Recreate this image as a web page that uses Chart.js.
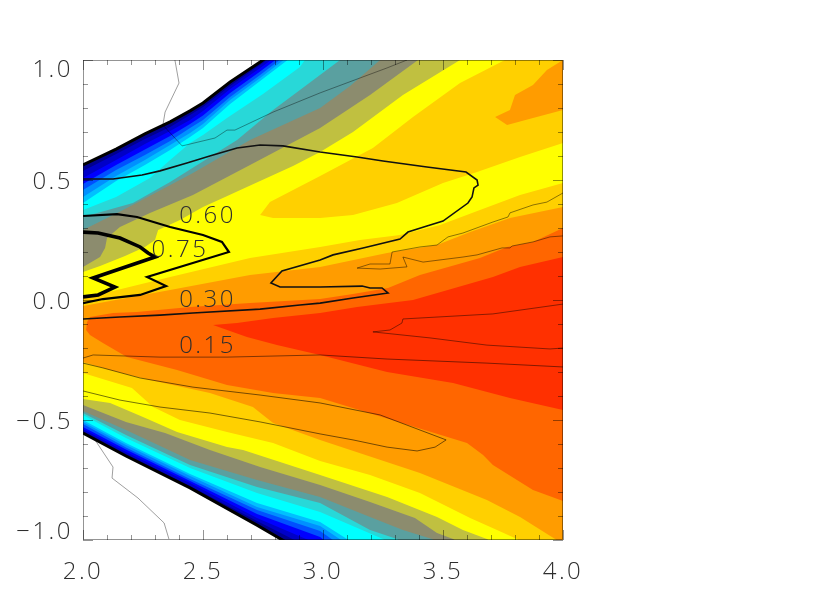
<!DOCTYPE html>
<html>
<head>
<meta charset="utf-8">
<title>Contour chart</title>
<script src="https://cdn.jsdelivr.net/npm/chart.js@4"></script>
<style>
  html, body { margin: 0; padding: 0; background: #fff; }
</style>
</head>
<body>
<canvas id="contour" width="830" height="600"></canvas>
<script>
var xMajorTicks = [2.0, 2.5, 3.0, 3.5, 4.0];
var yMajorTicks = [-1.0, -0.5, 0.0, 0.5, 1.0];
var xMinorTicks = [2.1, 2.2, 2.3, 2.4, 2.6, 2.7, 2.8, 2.9, 3.1, 3.2, 3.3, 3.4, 3.6, 3.7, 3.8, 3.9];
var yMinorTicks = [-0.9, -0.8, -0.7, -0.6, -0.4, -0.3, -0.2, -0.1, 0.1, 0.2, 0.3, 0.4, 0.6, 0.7, 0.8, 0.9];

// blue bands share their columns, upper and lower side of the fan
var blueUpperX = [2.000, 2.138, 2.258, 2.363, 2.446, 2.500, 2.613, 2.738, 2.863];
var blueLowerX = [2.000, 2.179, 2.446, 2.725, 2.988, 3.113];

var edgeUpperY = [0.563, 0.629, 0.692, 0.742, 0.788, 0.821, 0.908, 0.992, 1.083];
var edgeLowerY = [-0.554, -0.650, -0.783, -0.938, -1.092, -1.208];
var blue2UpperY = [0.538, 0.608, 0.671, 0.721, 0.771, 0.804, 0.892, 0.979, 1.071];
var blue2LowerY = [-0.546, -0.642, -0.775, -0.921, -1.054, -1.167];
var blue3UpperY = [0.508, 0.583, 0.650, 0.704, 0.750, 0.788, 0.879, 0.967, 1.058];
var blue3LowerY = [-0.538, -0.633, -0.763, -0.908, -1.021, -1.125];
var blue4UpperY = [0.483, 0.563, 0.627, 0.683, 0.733, 0.769, 0.863, 0.952, 1.046];
var blue4LowerY = [-0.529, -0.623, -0.754, -0.892, -0.988, -1.083];
var blue5UpperY = [0.458, 0.542, 0.604, 0.663, 0.717, 0.750, 0.846, 0.938, 1.033];
var blue5LowerY = [-0.517, -0.615, -0.746, -0.875, -0.963, -1.050];
var blue6UpperY = [0.429, 0.517, 0.583, 0.646, 0.696, 0.733, 0.833, 0.925, 1.021];
var blue6LowerY = [-0.508, -0.604, -0.733, -0.863, -0.942, -1.025];
var cyanUpperY = [0.404, 0.496, 0.563, 0.625, 0.679, 0.717, 0.817, 0.913, 1.008];
var cyanLowerY = [-0.500, -0.596, -0.725, -0.846, -0.925, -1.004];

var turqUpper = [[2.000,0.375],[2.138,0.429],[2.279,0.508],[2.363,0.583],[2.446,0.654],[2.500,0.688],[2.600,0.758],[2.750,0.858],[2.904,0.971],[2.954,1.042]];
var turqLower = [[2.000,-0.479],[2.179,-0.575],[2.446,-0.700],[2.725,-0.804],[2.988,-0.883],[3.250,-0.996],[3.321,-1.050]];
var tealUpper = [[2.000,0.346],[2.208,0.404],[2.363,0.492],[2.529,0.596],[2.642,0.667],[2.792,0.792],[2.904,0.875],[3.071,1.000],[3.113,1.033]];
var tealLower = [[2.000,-0.471],[2.179,-0.563],[2.446,-0.688],[2.725,-0.779],[2.988,-0.846],[3.196,-0.958],[3.308,-0.996],[3.363,-1.033]];
var grayUpper = [[2.000,0.292],[2.167,0.375],[2.458,0.529],[2.696,0.667],[2.988,0.800],[3.113,0.892],[3.238,1.000],[3.279,1.033]];
var grayLower = [[2.000,-0.463],[2.179,-0.542],[2.446,-0.667],[2.725,-0.750],[2.988,-0.821],[3.196,-0.904],[3.333,-0.958],[3.454,-0.996],[3.529,-1.042]];
var oliveUpper = [[2.000,0.138],[2.071,0.179],[2.092,0.217],[2.100,0.258],[2.154,0.304],[2.279,0.363],[2.458,0.438],[2.696,0.563],[2.988,0.717],[3.196,0.854],[3.396,1.000],[3.446,1.042]];
var oliveLower = [[2.000,-0.438],[2.179,-0.508],[2.342,-0.554],[2.529,-0.625],[2.738,-0.696],[2.988,-0.771],[3.196,-0.842],[3.383,-0.908],[3.475,-0.971],[3.542,-0.996],[3.613,-1.042]];
var yellowUpper = [[2.000,0.117],[2.071,0.142],[2.175,0.183],[2.258,0.221],[2.300,0.250],[2.313,0.292],[2.404,0.333],[2.500,0.388],[2.592,0.429],[2.683,0.471],[2.875,0.558],[2.988,0.617],[3.125,0.700],[3.333,0.854],[3.571,1.000],[3.621,1.033]];
var yellowLower = [[2.000,-0.413],[2.113,-0.429],[2.250,-0.488],[2.392,-0.550],[2.600,-0.613],[2.667,-0.625],[2.988,-0.729],[3.267,-0.821],[3.475,-0.904],[3.583,-0.958],[3.683,-0.996],[3.758,-1.042]];
var goldTopUpper = [[2.738,0.354],[2.779,0.408],[2.988,0.517],[3.208,0.633],[3.375,0.763],[3.571,0.904],[3.758,1.000],[3.821,1.042],[4.100,1.100],[4.100,0.640]];
var goldTopLower = [[2.792,0.342],[2.988,0.342],[3.125,0.354],[3.308,0.404],[3.500,0.488],[3.642,0.533],[3.821,0.596],[4.000,0.654]];
var goldUpper = [[2.000,0.017],[2.125,0.038],[2.363,0.096],[2.696,0.175],[2.988,0.221],[3.154,0.250],[3.321,0.271],[3.488,0.313],[3.654,0.375],[3.821,0.438],[4.000,0.488]];
var goldLower = [[2.000,-0.304],[2.204,-0.367],[2.292,-0.446],[2.404,-0.500],[2.600,-0.550],[2.792,-0.596],[2.988,-0.671],[3.196,-0.729],[3.404,-0.804],[3.613,-0.908],[3.725,-0.958],[3.808,-0.996],[3.883,-1.050]];
var orangeTopUpper = [[3.717,0.763],[3.779,0.792],[3.800,0.854],[3.875,0.896],[3.933,0.958],[4.000,1.000]];
var orangeTopLower = [[3.717,0.763],[3.767,0.729],[3.875,0.758],[4.000,0.792]];
var orangeUpper = [[2.000,-0.025],[2.113,-0.004],[2.363,0.042],[2.696,0.104],[2.988,0.138],[3.267,0.196],[3.475,0.229],[3.613,0.283],[3.779,0.342],[4.000,0.388]];
var orangeLower = [[2.000,-0.258],[2.113,-0.292],[2.279,-0.333],[2.529,-0.388],[2.708,-0.446],[2.792,-0.513],[2.988,-0.583],[3.404,-0.721],[3.683,-0.833],[3.821,-0.904],[3.967,-0.996],[4.029,-1.042]];
var darkUpper = [[2.013,-0.125],[2.017,-0.092],[2.029,-0.071],[2.125,-0.054],[2.225,-0.050],[2.446,-0.029],[2.696,-0.013],[2.988,0.004],[3.125,0.025],[3.271,0.050],[3.404,0.104],[3.654,0.175],[3.767,0.221],[3.875,0.242],[4.000,0.300]];
var darkLower = [[2.029,-0.146],[2.083,-0.179],[2.183,-0.238],[2.392,-0.292],[2.600,-0.354],[2.792,-0.388],[2.988,-0.408],[3.600,-0.596],[3.667,-0.646],[3.708,-0.688],[3.875,-0.792],[4.000,-0.838]];
var redUpper = [[2.542,-0.104],[2.642,-0.096],[2.792,-0.075],[2.988,-0.054],[3.142,-0.029],[3.375,0.000],[3.708,0.096],[3.821,0.138],[4.000,0.179]];
var redLower = [[2.683,-0.154],[2.808,-0.188],[2.988,-0.229],[3.267,-0.300],[3.542,-0.346],[3.779,-0.408],[4.000,-0.458]];

var contour075 = [[2.000,0.283],[2.063,0.279],[2.154,0.258],[2.238,0.221],[2.271,0.196],[2.300,0.179],[2.042,0.092],[2.133,0.054],[2.063,0.021],[2.000,0.013]];
var contour060 = [[2.000,0.350],[2.142,0.358],[2.225,0.346],[2.363,0.304],[2.500,0.271],[2.579,0.242],[2.608,0.200],[2.267,0.096],[2.346,0.058],[2.238,0.021],[2.083,0.004],[2.000,-0.013]];
var contour045 = [[2.000,0.504],[2.125,0.504],[2.246,0.521],[2.321,0.538],[2.433,0.571],[2.542,0.604],[2.642,0.633],[2.738,0.646],[2.833,0.642],[2.988,0.617],[3.142,0.596],[3.250,0.579],[3.433,0.554],[3.596,0.533],[3.642,0.500],[3.646,0.479],[3.629,0.467],[3.621,0.429],[3.604,0.404],[3.500,0.329],[3.433,0.308],[3.354,0.283],[3.321,0.254],[3.167,0.217],[3.042,0.188],[2.988,0.167],[2.829,0.121],[2.783,0.071],[2.821,0.054],[2.988,0.054],[3.163,0.058],[3.196,0.050],[3.246,0.050],[3.271,0.029],[3.125,0.008],[2.988,-0.013],[2.904,-0.021],[2.738,-0.038],[2.458,-0.054],[2.321,-0.063],[2.154,-0.071],[2.000,-0.079]];
var contour030 = [[4.000,0.446],[3.933,0.408],[3.875,0.396],[3.779,0.363],[3.771,0.346],[3.708,0.325],[3.583,0.279],[3.521,0.263],[3.475,0.229],[3.404,0.221],[3.288,0.200],[3.279,0.150],[3.196,0.150],[3.142,0.133],[3.238,0.129],[3.350,0.138],[3.333,0.179],[3.417,0.158],[3.583,0.179],[3.642,0.188],[3.746,0.217],[3.779,0.217],[3.788,0.225],[3.875,0.242],[3.946,0.263],[4.000,0.267]];
var contour015 = [[4.000,-0.017],[3.708,-0.058],[3.333,-0.079],[3.329,-0.096],[3.279,-0.125],[3.208,-0.133],[3.446,-0.158],[3.683,-0.188],[3.946,-0.204],[4.000,-0.200]];
var contourMid = [[2.000,-0.242],[2.042,-0.229],[2.321,-0.238],[2.600,-0.238],[2.988,-0.229],[3.267,-0.246],[3.683,-0.263],[4.000,-0.279]];
var contourLow = [[2.000,-0.263],[2.083,-0.283],[2.238,-0.325],[2.458,-0.363],[2.738,-0.396],[2.988,-0.429],[3.238,-0.479],[3.513,-0.583],[3.467,-0.613],[3.392,-0.629],[3.267,-0.613],[3.125,-0.583],[2.988,-0.558],[2.738,-0.508],[2.529,-0.471],[2.321,-0.446],[2.154,-0.417],[2.000,-0.379]];
var contourTop = [[2.383,1.000],[2.400,0.904],[2.342,0.783],[2.333,0.729],[2.413,0.642],[2.550,0.675],[2.600,0.708],[2.633,0.708],[2.792,0.783],[2.988,0.863],[3.154,0.925],[3.267,0.967],[3.350,1.000]];
var contourBottom = [[2.029,-0.567],[2.050,-0.583],[2.125,-0.696],[2.121,-0.742],[2.229,-0.825],[2.338,-0.929],[2.358,-0.996]];

var contourLabels = ["0.60", "0.75", "0.30", "0.15"];
var contourLabelX = [2.519, 2.404, 2.519, 2.519];
var contourLabelY = [0.350, 0.209, 0.000, -0.191];

var farTop = [4.1, 1.1];
var farBottom = [4.1, -1.1];
var labelFont = '300 24px "Open Sans", sans-serif';
var labelColor = '#2e2e2e';

function pairs(xs, ys) {
  return xs.map(function(x, i) { return [x, ys[i]]; });
}

function toPoints(list) {
  return list.map(function(p) { return {x: p[0], y: p[1]}; });
}

function band(color, upper, lower, corners) {
  var path = upper.concat(corners || [], lower.slice().reverse());
  path.push(upper[0]);
  return {
    data: toPoints(path),
    showLine: true,
    fill: 'shape',
    backgroundColor: color,
    borderWidth: 0,
    pointRadius: 0,
    tension: 0
  };
}

function contourLine(points, width, color) {
  return {
    data: toPoints(points),
    showLine: true,
    fill: false,
    borderColor: color,
    borderWidth: width,
    pointRadius: 0,
    tension: 0
  };
}

var both = [farTop, farBottom];
var datasets = [
  band('#000090', pairs(blueUpperX, edgeUpperY), pairs(blueLowerX, edgeLowerY), both),
  band('#0000c8', pairs(blueUpperX, blue2UpperY), pairs(blueLowerX, blue2LowerY), both),
  band('#0000ff', pairs(blueUpperX, blue3UpperY), pairs(blueLowerX, blue3LowerY), both),
  band('#0050ff', pairs(blueUpperX, blue4UpperY), pairs(blueLowerX, blue4LowerY), both),
  band('#0090ff', pairs(blueUpperX, blue5UpperY), pairs(blueLowerX, blue5LowerY), both),
  band('#00c0ff', pairs(blueUpperX, blue6UpperY), pairs(blueLowerX, blue6LowerY), both),
  band('#00ffff', pairs(blueUpperX, cyanUpperY), pairs(blueLowerX, cyanLowerY), both),
  band('#28d8d8', turqUpper, turqLower, both),
  band('#5aa0a0', tealUpper, tealLower, both),
  band('#8c8c6e', grayUpper, grayLower, both),
  band('#c0c040', oliveUpper, oliveLower, both),
  band('#ffff00', yellowUpper, yellowLower, both),
  band('#ffd000', goldTopUpper, goldTopLower),
  band('#ffd000', goldUpper, goldLower, [farBottom]),
  band('#ff9c00', orangeTopUpper, orangeTopLower),
  band('#ff9c00', orangeUpper, orangeLower, [farBottom]),
  band('#ff6600', darkUpper, darkLower),
  band('#ff3000', redUpper, redLower),
  contourLine(pairs(blueUpperX, edgeUpperY), 3, '#000'),
  contourLine(pairs(blueLowerX, edgeLowerY), 3, '#000'),
  contourLine(contourTop, 0.7, 'rgba(0,0,0,0.55)'),
  contourLine(contourBottom, 0.7, 'rgba(0,0,0,0.55)'),
  contourLine(contour015, 0.9, 'rgba(0,0,0,0.5)'),
  contourLine(contourMid, 0.9, 'rgba(0,0,0,0.55)'),
  contourLine(contourLow, 0.9, 'rgba(0,0,0,0.6)'),
  contourLine(contour030, 0.9, 'rgba(0,0,0,0.5)'),
  contourLine(contour045, 1.6, '#111'),
  contourLine(contour060, 2.2, '#000'),
  contourLine(contour075, 3.6, '#000')
];
// the first dataset is painted last, so the outer bands go to the end
datasets.reverse();

// IDL style frame: inward ticks on all four sides, contour labels on top
var framePlugin = {
  id: 'frame',
  beforeDraw: function(chart) {
    chart.ctx.letterSpacing = '2.5px';
    var items = chart.scales.y.getLabelItems(chart.chartArea);
    items.forEach(function(item) {
      item.options.translation[1] += 2;
      if (item.label.indexOf('1.0') >= 0) {
        item.options.translation[1] += item.label.charAt(0) === '1' ? 8 : -10;
      }
    });
  },
  afterDatasetsDraw: function(chart) {
    var ctx = chart.ctx;
    var area = chart.chartArea;
    var xs = chart.scales.x;
    var ys = chart.scales.y;

    ctx.save();
    ctx.strokeStyle = 'rgba(0,0,0,0.42)';
    ctx.lineWidth = 1;
    ctx.beginPath();
    ctx.rect(area.left + 0.5, area.top + 0.5, area.width - 1, area.height - 1);

    function xTick(v, len) {
      var px = Math.round(xs.getPixelForValue(v)) + 0.5;
      ctx.moveTo(px, area.bottom);
      ctx.lineTo(px, area.bottom - len);
      ctx.moveTo(px, area.top);
      ctx.lineTo(px, area.top + len);
    }
    function yTick(v, len) {
      var py = Math.round(ys.getPixelForValue(v)) + 0.5;
      ctx.moveTo(area.left, py);
      ctx.lineTo(area.left + len, py);
      ctx.moveTo(area.right, py);
      ctx.lineTo(area.right - len, py);
    }
    xMajorTicks.forEach(function(v) { xTick(v, 10); });
    xMinorTicks.forEach(function(v) { xTick(v, 5); });
    yMajorTicks.forEach(function(v) { yTick(v, 10); });
    yMinorTicks.forEach(function(v) { yTick(v, 5); });
    ctx.stroke();

    ctx.font = labelFont;
    ctx.fillStyle = labelColor;
    ctx.textAlign = 'center';
    ctx.textBaseline = 'middle';
    contourLabels.forEach(function(text, i) {
      ctx.fillText(text, xs.getPixelForValue(contourLabelX[i]), ys.getPixelForValue(contourLabelY[i]));
    });
    ctx.restore();
  }
};

function tickText(value) {
  var text = Math.abs(value).toFixed(1);
  return value < 0 ? '\u2212' + text : text;
}

var contourChart = new Chart(document.getElementById('contour'), {
  type: 'scatter',
  data: { datasets: datasets },
  plugins: [framePlugin],
  options: {
    responsive: false,
    animation: false,
    layout: { padding: { top: 60, right: 267, left: 0, bottom: 0 } },
    plugins: { legend: { display: false }, tooltip: { enabled: false } },
    scales: {
      x: {
        type: 'linear',
        min: 2,
        max: 4,
        afterBuildTicks: function(scale) {
          scale.ticks = xMajorTicks.map(function(v) { return {value: v}; });
        },
        afterFit: function(scale) { scale.height = 60; },
        grid: { display: false },
        border: { display: false },
        ticks: {
          autoSkip: false,
          maxRotation: 0,
          padding: 10,
          color: labelColor,
          font: { family: '"Open Sans", sans-serif', size: 24, weight: '300' },
          callback: tickText
        }
      },
      y: {
        type: 'linear',
        min: -1,
        max: 1,
        afterBuildTicks: function(scale) {
          scale.ticks = yMajorTicks.map(function(v) { return {value: v}; });
        },
        afterFit: function(scale) { scale.width = 83; },
        grid: { display: false },
        border: { display: false },
        ticks: {
          autoSkip: false,
          padding: 2,
          color: labelColor,
          font: { family: '"Open Sans", sans-serif', size: 24, weight: '300' },
          callback: tickText
        }
      }
    }
  }
});
</script>
</body>
</html>
